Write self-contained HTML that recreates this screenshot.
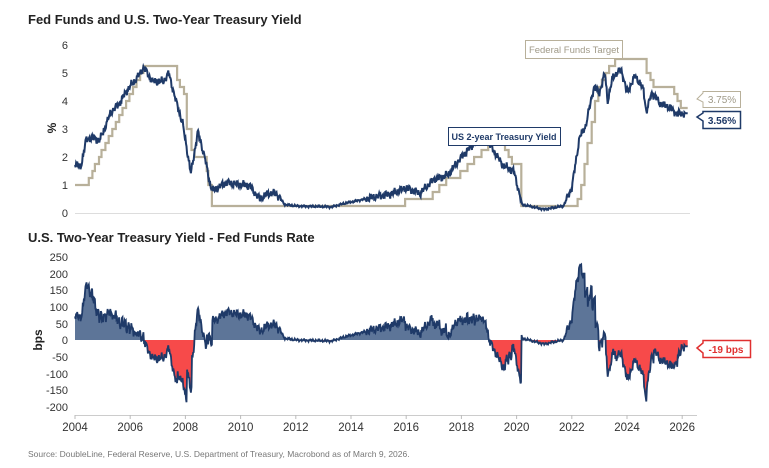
<!DOCTYPE html>
<html><head><meta charset="utf-8"><style>
body{margin:0;background:#fff;width:769px;height:468px;overflow:hidden;font-family:"Liberation Sans",sans-serif}
svg{display:block}
</style></head><body>
<svg id="s" width="769" height="468" xmlns="http://www.w3.org/2000/svg" font-family="Liberation Sans, sans-serif">
<text x="28" y="24" font-size="13" font-weight="bold" fill="#222">Fed Funds and U.S. Two-Year Treasury Yield</text>
<text x="28" y="242" font-size="13" font-weight="bold" fill="#222">U.S. Two-Year Treasury Yield - Fed Funds Rate</text>
<g font-size="11" fill="#333" text-anchor="end">
<text x="68" y="49">6</text><text x="68" y="77">5</text><text x="68" y="105">4</text><text x="68" y="133">3</text><text x="68" y="161">2</text><text x="68" y="189">1</text><text x="68" y="217">0</text>
<text x="68" y="261">250</text><text x="68" y="278">200</text><text x="68" y="294">150</text><text x="68" y="311">100</text><text x="68" y="328">50</text><text x="68" y="344">0</text><text x="68" y="361">-50</text><text x="68" y="378">-100</text><text x="68" y="394">-150</text><text x="68" y="411">-200</text>
</g>
<text x="0" y="0" font-size="12" font-weight="bold" fill="#222" transform="translate(56,128) rotate(-90)" text-anchor="middle">%</text>
<text x="0" y="0" font-size="12" font-weight="bold" fill="#222" transform="translate(42,340) rotate(-90)" text-anchor="middle">bps</text>
<line x1="75" y1="213.5" x2="690" y2="213.5" stroke="#ddd" stroke-width="1"/>
<line x1="75" y1="415.5" x2="697" y2="415.5" stroke="#ccc" stroke-width="1"/>
<g id="ticks" font-size="11.5" fill="#333" text-anchor="middle"></g>
<g id="plots"></g>
<rect x="525.5" y="40.5" width="97" height="18" fill="#fff" stroke="#b8b09a"/>
<text x="574" y="53" font-size="9.5" fill="#a09a88" text-anchor="middle">Federal Funds Target</text>
<rect x="448.5" y="127.5" width="112" height="18" fill="#fff" stroke="#1f3a68"/>
<text x="504" y="140" font-size="9" font-weight="bold" fill="#1f3a68" text-anchor="middle">US 2-year Treasury Yield</text>
<path d="M697,99 L703,93 L703,91.5 L740.5,91.5 L740.5,107.5 L703,107.5 L703,102 Z" fill="#fff" stroke="#b8b09a"/>
<text x="722" y="103" font-size="10" fill="#a09a88" text-anchor="middle">3.75%</text>
<path d="M697,117 L703,113 L703,111.5 L740.5,111.5 L740.5,128.5 L703,128.5 L703,121 Z" fill="#fff" stroke="#1f3a68" stroke-width="1.5"/>
<text x="722" y="124" font-size="10" font-weight="bold" fill="#1f3a68" text-anchor="middle">3.56%</text>
<path d="M697,348 L703,343 L703,340.5 L750.5,340.5 L750.5,357.5 L703,357.5 L703,353 Z" fill="#fff" stroke="#e03030" stroke-width="1.5"/>
<text x="726" y="353" font-size="10" font-weight="bold" fill="#e03030" text-anchor="middle">-19 bps</text>
<text x="28" y="457" font-size="8.5" fill="#777">Source: DoubleLine, Federal Reserve, U.S. Department of Treasury, Macrobond as of March 9, 2026.</text>
</svg>
<script>
var X=function(t){return 75+(t-2004)*27.6};
var YT=function(v){return 213-v*28};
var YB=function(b){return 340-b*0.333};
var tk='';
for(var y=2004;y<=2026;y+=2){tk+='<line x1="'+X(y)+'" y1="415" x2="'+X(y)+'" y2="419" stroke="#bbb"/><text x="'+X(y)+'" y="431">'+y+'</text>';}
document.getElementById('ticks').innerHTML=tk;
var ff=[[2004,1],[2004.5,1.25],[2004.63,1.5],[2004.72,1.75],[2004.87,2],[2004.96,2.25],[2005.1,2.5],[2005.22,2.75],[2005.35,3],[2005.48,3.25],[2005.6,3.5],[2005.72,3.75],[2005.85,4],[2005.97,4.25],[2006.1,4.5],[2006.23,4.75],[2006.36,5],[2006.48,5.25],[2007.7,4.75],[2007.8,4.5],[2007.95,4.25],[2008.05,3.0],[2008.22,2.25],[2008.33,2.0],[2008.77,1.5],[2008.83,1.0],[2008.96,0.25],[2015.96,0.5],[2016.96,0.75],[2017.2,1.0],[2017.45,1.25],[2017.96,1.5],[2018.22,1.75],[2018.46,2.0],[2018.73,2.25],[2018.97,2.5],[2019.58,2.25],[2019.71,2.0],[2019.83,1.75],[2020.17,0.25],[2022.21,0.5],[2022.34,1.0],[2022.46,1.75],[2022.57,2.5],[2022.72,3.25],[2022.84,4.0],[2022.96,4.5],[2023.09,4.75],[2023.22,5.0],[2023.35,5.25],[2023.57,5.5],[2024.71,5.0],[2024.85,4.75],[2024.96,4.5],[2025.71,4.25],[2025.83,4.0],[2025.95,3.75],[2026.2,3.75]];
var yk=[[2004,1.8],[2004.2,1.6],[2004.4,2.6],[2004.6,2.7],[2004.9,2.6],[2005.3,3.6],[2005.6,3.9],[2005.9,4.4],[2006.3,4.9],[2006.5,5.2],[2006.8,4.7],[2007.2,4.7],[2007.4,5.0],[2007.6,4.2],[2007.9,3.2],[2008.2,1.4],[2008.45,2.9],[2008.7,2.0],[2008.9,1.0],[2009.0,0.8],[2009.5,1.1],[2010.0,1.0],[2010.3,1.0],[2010.7,0.5],[2011.0,0.7],[2011.3,0.7],[2011.6,0.3],[2012,0.25],[2013.3,0.22],[2013.8,0.35],[2014.5,0.5],[2015,0.6],[2015.5,0.7],[2016,0.9],[2016.5,0.7],[2017,1.2],[2017.5,1.35],[2018,2.0],[2018.8,2.85],[2019.0,2.5],[2019.5,1.7],[2019.9,1.5],[2020.2,0.3],[2021.0,0.13],[2021.7,0.25],[2022.0,0.9],[2022.28,2.7],[2022.5,3.1],[2022.8,4.5],[2023.0,4.3],[2023.2,5.0],[2023.3,4.0],[2023.5,4.9],[2023.8,5.1],[2024.0,4.3],[2024.3,4.9],[2024.6,4.4],[2024.7,3.6],[2024.9,4.3],[2025.2,3.9],[2025.5,3.8],[2025.8,3.55],[2026.2,3.56]];
function ffAt(t){var v=ff[0][1];for(var i=0;i<ff.length;i++){if(ff[i][0]<=t)v=ff[i][1];}return v;}
function yAt(t){for(var i=0;i<yk.length-1;i++){if(t>=yk[i][0]&&t<=yk[i+1][0]){var f=(t-yk[i][0])/(yk[i+1][0]-yk[i][0]);return yk[i][1]+f*(yk[i+1][1]-yk[i][1]);}}return yk[yk.length-1][1];}
var pts=[],st=0.02;
for(var t=2004;t<=2026.2;t+=st){
 var base=yAt(t);
 var amp=base<0.5?0.03:0.12;
 var n=amp*(Math.sin(t*57.3)*0.6+Math.sin(t*131.7+1.3)*0.5+Math.sin(t*23.1+0.7)*0.4);
 var v=Math.max(0.08,base+n);
 if(t>2026.1)v=3.56;
 pts.push([t,v,ffAt(t)]);
}
var out='';
var d='M'+X(ff[0][0])+','+YT(ff[0][1]);
for(var i=1;i<ff.length;i++){d+=' H'+X(ff[i][0]).toFixed(1)+' V'+YT(ff[i][1]).toFixed(1);}
out+='<path d="'+d+'" fill="none" stroke="#b8b09a" stroke-width="2.2"/>';
var d2='';pts.forEach(function(p,i){d2+=(i?'L':'M')+X(p[0]).toFixed(1)+','+YT(p[1]).toFixed(1);});
out+='<path d="'+d2+'" fill="none" stroke="#1f3a68" stroke-width="2"/>';
var pos='M'+X(2004)+','+YB(0),neg='M'+X(2004)+','+YB(0),ln='';
pts.forEach(function(p,i){var s=(p[1]-p[2])*100;var x=X(p[0]).toFixed(1);
 pos+=' L'+x+','+YB(Math.max(0,s)).toFixed(1);neg+=' L'+x+','+YB(Math.min(0,s)).toFixed(1);
 ln+=(i?'L':'M')+x+','+YB(s).toFixed(1);});
var xe=X(pts[pts.length-1][0]).toFixed(1);
pos+=' L'+xe+','+YB(0)+' Z';neg+=' L'+xe+','+YB(0)+' Z';
out+='<path d="'+pos+'" fill="#5d7598"/><path d="'+neg+'" fill="#f74a4a"/>';
out+='<path d="'+ln+'" fill="none" stroke="#1f3a68" stroke-width="1.8"/>';
document.getElementById('plots').innerHTML=out;
</script>
</body></html>
